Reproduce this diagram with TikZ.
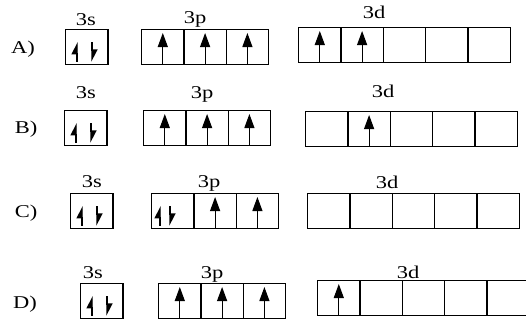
\documentclass[tikz,border=0pt]{standalone}
\usepackage{fontspec}
\setmainfont[FakeStretch=1.25]{Liberation Serif}
\usetikzlibrary{arrows.meta}

\begin{document}
\begin{tikzpicture}[
  x=1pt, y=-1pt,
  every node/.style={font=\fontsize{18}{20}\selectfont},
  cell/.style    ={rectangle, draw, line width=1.3pt, minimum width=42.3pt, minimum height=34.5pt, inner sep=0pt, anchor=north west},
  orb/.style     ={anchor=base, inner sep=0pt},
  spinup/.style  ={line width=1.1pt, -{Triangle[length=14pt, width=10pt]}},
  spinhalf/.style={line width=1.4pt, -{Triangle[left, length=11pt, width=11pt]}}
]
\clip (0,0) rectangle (526,322);
\fill[white] (0,0) rectangle (526,322);

% boxes: row / 3s x / 3p x / 3d x / top / 3d top
\foreach \r/\sx/\px/\dx/\y/\dy in {A/65/141/298/29/27, B/64/143/305/110/111,
                                     C/70/151/307/193/193, D/80/158/317/283/280}{
  \node[cell] (\r3s) at (\sx,\y) {};
  \foreach \i in {1,2,3}   \node[cell] (\r3p\i) at ({\px+42.3*(\i-1)},\y) {};
  \foreach \i in {1,...,5} \node[cell] (\r3d\i) at ({\dx+42.3*(\i-1)},\dy) {};
}

% row letters
\node (lA) at (23,49)  {A)};
\node (lB) at (26,129) {B)};
\node (lC) at (26,213) {C)};
\node (lD) at (25,304) {D)};

% subshell labels
\node[orb] (sA) at (86,25)   {3s};
\node[orb] (pA) at (195,23)  {3p};
\node[orb] (dA) at (374,18)  {3d};
\node[orb] (sB) at (86,98)   {3s};
\node[orb] (pB) at (202,98)  {3p};
\node[orb] (dB) at (383,97)  {3d};
\node[orb] (sC) at (92,187)  {3s};
\node[orb] (pC) at (209,187) {3p};
\node[orb] (dC) at (387,188) {3d};
\node[orb] (sD) at (93,278)  {3s};
\node[orb] (pD) at (212,278) {3p};
\node[orb] (dD) at (408,278) {3d};

% paired electrons
\foreach \n in {A3s,B3s,C3s,D3s}{
  \draw[spinhalf] ([xshift=12pt,yshift=3pt]\n.south west) -- ([xshift=12pt,yshift=-13pt]\n.north west);
  \draw[spinhalf] ([xshift=27pt,yshift=-13pt]\n.north west) -- ([xshift=27pt,yshift=3pt]\n.south west);
}
\draw[spinhalf] ([xshift=9pt,yshift=3pt]C3p1.south west) -- ([xshift=9pt,yshift=-13pt]C3p1.north west);
\draw[spinhalf] ([xshift=19pt,yshift=-13pt]C3p1.north west) -- ([xshift=19pt,yshift=3pt]C3p1.south west);

% single electrons
\foreach \n in {A3p1,A3p2,A3p3,A3d1,A3d2,B3p1,B3p2,B3p3,B3d2,C3p2,C3p3,D3p1,D3p2,D3p3,D3d1}
  \draw[spinup] ([yshift=1pt]\n.south) -- ([yshift=-4pt]\n.north);

\end{tikzpicture}
\end{document}
